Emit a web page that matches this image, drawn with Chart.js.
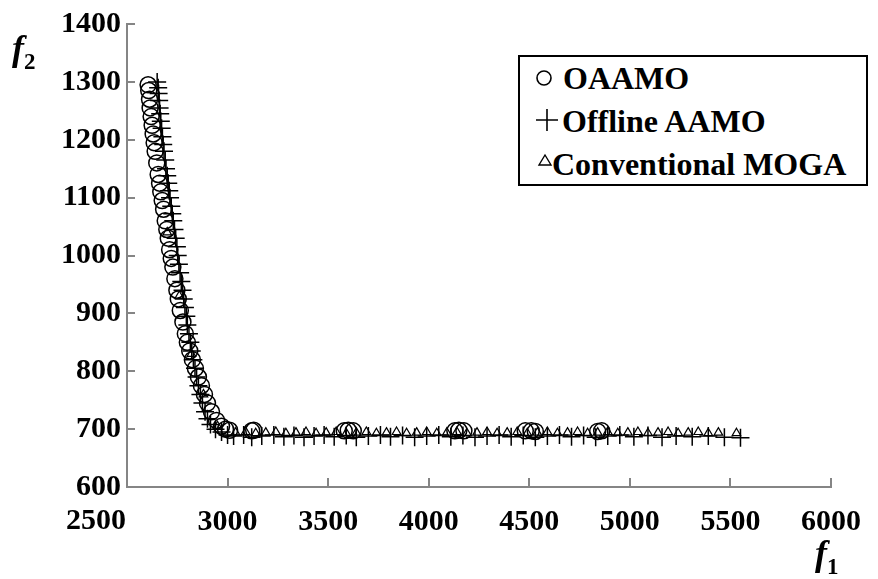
<!DOCTYPE html>
<html>
<head>
<meta charset="utf-8">
<script src="https://cdn.jsdelivr.net/npm/chart.js@4.4.1/dist/chart.umd.min.js"></script>
<style>
  html, body { margin: 0; padding: 0; background: #fff; }
  #wrap { position: relative; width: 878px; height: 579px; overflow: hidden; }
  #plot { position: absolute; left: 0; top: 0; }
  .serif { font-family: "Liberation Serif", "Times New Roman", serif; font-weight: bold; color: #000; }
  .legend { position: absolute; left: 518px; top: 55px; width: 346px; height: 127px; border: 2px solid #000; background: #fff; }
  .row { position: absolute; font-size: 32px; line-height: 32px; white-space: nowrap; }
  .sym { position: absolute; }
  .atitle { position: absolute; font-size: 36px; line-height: 36px; font-style: italic; white-space: nowrap; }
  .atitle sub { font-style: normal; font-size: 23px; vertical-align: -9px; }
</style>
</head>
<body>
<div id="wrap">
  <canvas id="plot" width="878" height="579"></canvas>

  <div class="legend">
    <svg class="sym" style="left:14px;top:11px" width="20" height="20"><circle cx="10" cy="10" r="7" fill="none" stroke="#000" stroke-width="1.6"/></svg>
    <div class="row serif" style="left:43px;top:5px">OAAMO</div>
    <svg class="sym" style="left:15px;top:51px" width="24" height="24"><path d="M12 1 V23 M1 12 H23" stroke="#000" stroke-width="1.6"/></svg>
    <div class="row serif" style="left:42px;top:48px">Offline AAMO</div>
    <svg class="sym" style="left:17px;top:96px" width="16" height="14"><path d="M8 2 L14 12 L2 12 Z" fill="none" stroke="#000" stroke-width="1.4"/></svg>
    <div class="row serif" style="left:32px;top:91px">Conventional MOGA</div>
  </div>

  <div class="atitle serif" style="left:12px;top:30px">f<sub>2</sub></div>
  <div class="atitle serif" style="left:815px;top:535px">f<sub>1</sub></div>
</div>

<script>
// Axis ticks
const f1Ticks = [2500, 3000, 3500, 4000, 4500, 5000, 5500, 6000];
const f2Ticks = [600, 700, 800, 900, 1000, 1100, 1200, 1300, 1400];

// OAAMO front
const oaamoF1 = [2605, 2608, 2612, 2615, 2620, 2625, 2630, 2635, 2640, 2648, 2655, 2662, 2668, 2675,
  2682, 2690, 2698, 2705, 2712, 2720, 2728, 2738, 2748, 2755, 2765, 2778, 2790, 2800, 2812, 2825,
  2840, 2855, 2870, 2885, 2900, 2920, 2945, 2970, 2990, 3010,
  3120, 3130, 3580, 3600, 3625, 4130, 4150, 4175, 4480, 4510, 4530, 4840, 4860];
const oaamoF2 = [1295, 1285, 1270, 1255, 1240, 1225, 1210, 1195, 1180, 1160, 1140, 1125, 1110, 1095,
  1080, 1060, 1045, 1030, 1010, 995, 980, 960, 940, 925, 905, 885, 865, 850, 835, 820,
  805, 790, 775, 760, 745, 730, 715, 705, 700, 698,
  697, 698, 697, 698, 697, 697, 698, 697, 697, 697, 696, 696, 697];

// Offline AAMO front
const offlineF1 = [2650, 2655, 2657, 2660, 2662, 2665, 2668, 2672, 2676, 2680, 2684, 2690, 2694, 2700,
  2705, 2710, 2714, 2720, 2725, 2730, 2736, 2742, 2748, 2752, 2758, 2764, 2770, 2776, 2782, 2788,
  2795, 2800, 2808, 2815, 2822, 2830, 2838, 2846, 2855, 2865, 2875, 2888, 2900, 2915, 2940, 2970, 3000,
  3030, 3080, 3120, 3170, 3230, 3280, 3330, 3380, 3430, 3480, 3530, 3590, 3640, 3700, 3760, 3810,
  3870, 3930, 3990, 4050, 4110, 4170, 4230, 4290, 4350, 4410, 4470, 4530, 4590, 4650, 4710, 4770,
  4830, 4890, 4950, 5020, 5090, 5160, 5230, 5310, 5390, 5470, 5550];
const offlineF2 = [1300, 1290, 1280, 1268, 1255, 1245, 1232, 1220, 1205, 1192, 1180, 1165, 1150, 1138,
  1125, 1112, 1100, 1085, 1072, 1060, 1045, 1030, 1015, 1000, 985, 970, 955, 940, 925, 910,
  895, 880, 865, 850, 835, 820, 805, 790, 775, 760, 745, 730, 718, 708, 700, 695, 690,
  688, 690, 686, 688, 690, 687, 689, 686, 688, 690, 687, 689, 686, 688, 690, 687,
  689, 686, 688, 690, 687, 689, 686, 688, 690, 687, 689, 686, 688, 690, 687, 689,
  686, 688, 690, 687, 689, 686, 688, 687, 688, 686, 685];

// Conventional MOGA front
const mogaF1 = [2700, 2760, 2820, 2880, 2950,
  3040, 3090, 3140, 3190, 3240, 3290, 3340, 3390, 3440, 3490, 3540, 3590, 3640, 3690, 3740,
  3790, 3840, 3890, 3940, 3990, 4040, 4090, 4140, 4190, 4240, 4290, 4340, 4390, 4440, 4490,
  4540, 4590, 4640, 4690, 4740, 4790, 4840, 4890, 4940, 4990, 5040, 5090, 5140, 5190, 5240,
  5290, 5340, 5390, 5440, 5530];
const mogaF2 = [1040, 930, 830, 760, 705,
  694, 695, 693, 694, 695, 693, 694, 695, 693, 694, 695, 693, 694, 695, 693,
  694, 695, 693, 694, 695, 693, 694, 695, 693, 694, 695, 693, 694, 695, 693,
  694, 695, 693, 694, 695, 693, 694, 695, 693, 694, 695, 693, 694, 695, 693,
  694, 695, 693, 694, 693];

const pts = (xs, ys) => xs.map((x, i) => ({ x: x, y: ys[i] }));

const serifFont = '"Liberation Serif", "Times New Roman", serif';
const tickFont = { family: serifFont, weight: 'bold', size: 30 };
const axisGray = '#858585';
const firstLabelShift = 31;   // the leftmost f1 label sits left of the axis corner

// Short inward tick marks on both axes, plus the shifted first f1 label
const innerTicks = {
  id: 'innerTicks',
  afterDraw(chart) {
    const { ctx, chartArea, scales } = chart;
    ctx.save();
    ctx.strokeStyle = axisGray;
    ctx.lineWidth = 2;
    ctx.beginPath();
    scales.x.ticks.forEach(t => {
      const px = Math.round(scales.x.getPixelForValue(t.value));
      ctx.moveTo(px, chartArea.bottom);
      ctx.lineTo(px, chartArea.bottom - 9);
    });
    scales.y.ticks.forEach(t => {
      const py = Math.round(scales.y.getPixelForValue(t.value));
      ctx.moveTo(chartArea.left, py);
      ctx.lineTo(chartArea.left + 8, py);
    });
    ctx.stroke();

    ctx.fillStyle = '#000';
    ctx.font = 'bold 30px ' + serifFont;
    ctx.textAlign = 'center';
    ctx.textBaseline = 'top';
    const first = f1Ticks[0];
    ctx.fillText(String(first), scales.x.getPixelForValue(first) - firstLabelShift, chartArea.bottom + 19);
    ctx.restore();
  }
};

new Chart(document.getElementById('plot'), {
  type: 'scatter',
  data: {
    datasets: [
      { label: 'OAAMO', data: pts(oaamoF1, oaamoF2), pointStyle: 'circle', pointRadius: 8,
        borderColor: '#000', backgroundColor: 'rgba(0,0,0,0)', borderWidth: 1.5 },
      { label: 'Offline AAMO', data: pts(offlineF1, offlineF2), pointStyle: 'cross', pointRadius: 9,
        borderColor: '#000', backgroundColor: '#000', borderWidth: 1.5 },
      { label: 'Conventional MOGA', data: pts(mogaF1, mogaF2), pointStyle: 'triangle', pointRadius: 5,
        borderColor: '#000', backgroundColor: 'rgba(0,0,0,0)', borderWidth: 1.2 }
    ]
  },
  options: {
    responsive: false,
    animation: false,
    events: [],
    layout: { padding: { left: 0, top: 20, right: 35, bottom: 0 } },
    plugins: { legend: { display: false }, tooltip: { enabled: false } },
    scales: {
      x: {
        type: 'linear', position: 'bottom', min: 2500, max: 6000,
        afterBuildTicks: s => { s.ticks = f1Ticks.map(v => ({ value: v })); },
        afterFit: s => { s.height = 92; },
        grid: { drawOnChartArea: false, drawTicks: false },
        border: { color: axisGray, width: 2 },
        ticks: { color: '#000', padding: 17, maxRotation: 0, font: tickFont,
          callback: v => (v === f1Ticks[0] ? '' : String(v)) }
      },
      y: {
        type: 'linear', position: 'left', min: 600, max: 1400,
        afterBuildTicks: s => { s.ticks = f2Ticks.map(v => ({ value: v })); },
        afterFit: s => { s.width = 127; },
        grid: { drawOnChartArea: false, drawTicks: false },
        border: { color: axisGray, width: 2 },
        ticks: { color: '#000', padding: 6, font: tickFont,
          callback: v => String(v) }
      }
    }
  },
  plugins: [innerTicks]
});
</script>
</body>
</html>
